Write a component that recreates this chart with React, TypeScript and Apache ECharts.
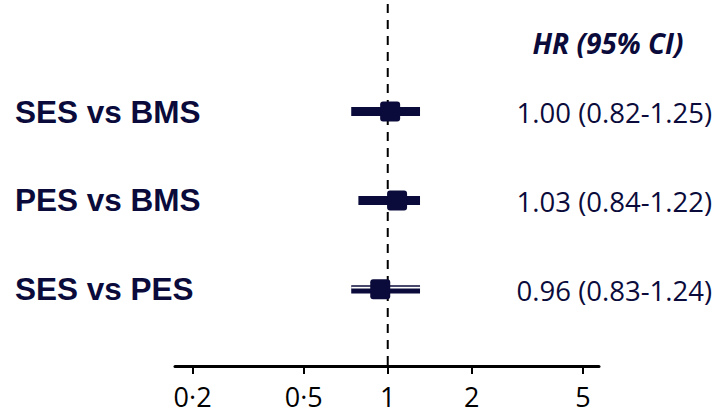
import React, { useEffect, useRef } from "react";
import * as echarts from "echarts";

// ---- data ----
const categories = ["SES vs BMS", "PES vs BMS", "SES vs PES"];
const hrPoint = [1.02, 1.08, 0.94]; // drawn square positions
const ciLow = [0.74, 0.785, 0.74];
const ciHigh = [1.305, 1.305, 1.305];
const hrLabels = ["1.00 (0.82-1.25)", "1.03 (0.84-1.22)", "0.96 (0.83-1.24)"];
const barStyles = ["solid", "solid", "double"];
const tickValues = [0.2, 0.5, 1, 2, 5];
const tickLabels = ["0·2", "0·5", "1", "2", "5"];
const axisMin = 0.173;
const axisMax = 5.71;
const refValue = 1;
const headerText = "HR (95% CI)";

const NAVY = "#0b0b3b";
const Y_MIN = -0.256;
const Y_MAX = 3.864;

export default function App() {
  const ref = useRef<HTMLDivElement>(null);

  useEffect(() => {
    if (!ref.current) return;
    const chart = echarts.init(ref.current, null, { renderer: "svg" });
    const data = categories.map((c, i) => [
      i + 1,
      Math.log10(hrPoint[i]),
      Math.log10(ciLow[i]),
      Math.log10(ciHigh[i]),
    ]);
    const logTicks = tickValues.map((v) => Math.log10(v));

    const option: any = {
      animation: false,
      grid: { left: 175, right: 123, top: 0, height: 366, containLabel: false },
      xAxis: {
        type: "value",
        position: "bottom",
        min: Math.log10(axisMin),
        max: Math.log10(axisMax),
        splitLine: { show: false },
        axisLine: { show: true, onZero: false, lineStyle: { color: "#000", width: 3 } },
        axisTick: {
          show: true,
          customValues: logTicks,
          length: 8,
          lineStyle: { color: "#000", width: 2 },
        },
        axisLabel: {
          customValues: logTicks,
          margin: 16,
          color: "#000",
          fontFamily: "Open Sans",
          fontSize: 27,
          lineHeight: 28,
          formatter: (v: number) => {
            let best = 0;
            logTicks.forEach((t, i) => {
              if (Math.abs(t - v) < Math.abs(logTicks[best] - v)) best = i;
            });
            return tickLabels[best];
          },
        },
      },
      yAxis: {
        type: "value",
        inverse: true,
        min: Y_MIN,
        max: Y_MAX,
        show: false,
      },
      graphic: [
        {
          type: "text",
          x: 608,
          y: 43,
          style: {
            text: headerText,
            fill: NAVY,
            font: "italic bold 28px 'Open Sans'",
            align: "center",
            verticalAlign: "middle",
          },
        },
      ],
      series: [
        {
          type: "custom",
          data,
          encode: { x: [1, 2, 3], y: 0 },
          clip: false,
          renderItem: (params: any, api: any) => {
            const row = api.value(0);
            const idx = params.dataIndex;
            const pC = api.coord([api.value(1), row]);
            const pL = api.coord([api.value(2), row]);
            const pH = api.coord([api.value(3), row]);
            const y = pC[1];
            const children: any[] = [];
            if (idx === 0) {
              const top = api.coord([Math.log10(refValue), Y_MIN]);
              const bottom = api.coord([Math.log10(refValue), Y_MAX]);
              children.push({
                type: "line",
                shape: { x1: top[0], y1: top[1] + 4, x2: bottom[0], y2: bottom[1] },
                style: { stroke: "#000", lineWidth: 2, lineDash: [9, 7] },
              });
            }
            const style = barStyles[idx];
            if (style === "double") {
              children.push({
                type: "rect",
                shape: { x: pL[0], y: y - 4, width: pH[0] - pL[0], height: 8.3 },
                style: { fill: NAVY },
              });
              children.push({
                type: "rect",
                shape: { x: pL[0], y: y - 2.4, width: pH[0] - pL[0], height: 1.6 },
                style: { fill: "#fff" },
              });
            } else {
              children.push({
                type: "rect",
                shape: { x: pL[0], y: y - 4.5, width: pH[0] - pL[0], height: 9 },
                style: { fill: NAVY },
              });
            }
            children.push({
              type: "rect",
              shape: { x: pC[0] - 10, y: y - 10, width: 20, height: 20, r: 3 },
              style: { fill: NAVY },
            });
            children.push({
              type: "text",
              x: 15,
              y: y,
              style: {
                text: categories[idx],
                fill: NAVY,
                font: "bold 31.5px 'Liberation Sans', Arial",
                align: "left",
                verticalAlign: "middle",
              },
            });
            children.push({
              type: "text",
              x: 712,
              y: y + 1,
              style: {
                text: hrLabels[idx],
                fill: NAVY,
                font: "27.5px 'Open Sans'",
                align: "right",
                verticalAlign: "middle",
              },
            });
            return { type: "group", children };
          },
        },
      ],
    };
    chart.setOption(option);
    return () => chart.dispose();
  }, []);

  return (
    <div
      ref={ref}
      style={{ position: "absolute", left: 0, top: 0, width: 722, height: 412 }}
    />
  );
}
